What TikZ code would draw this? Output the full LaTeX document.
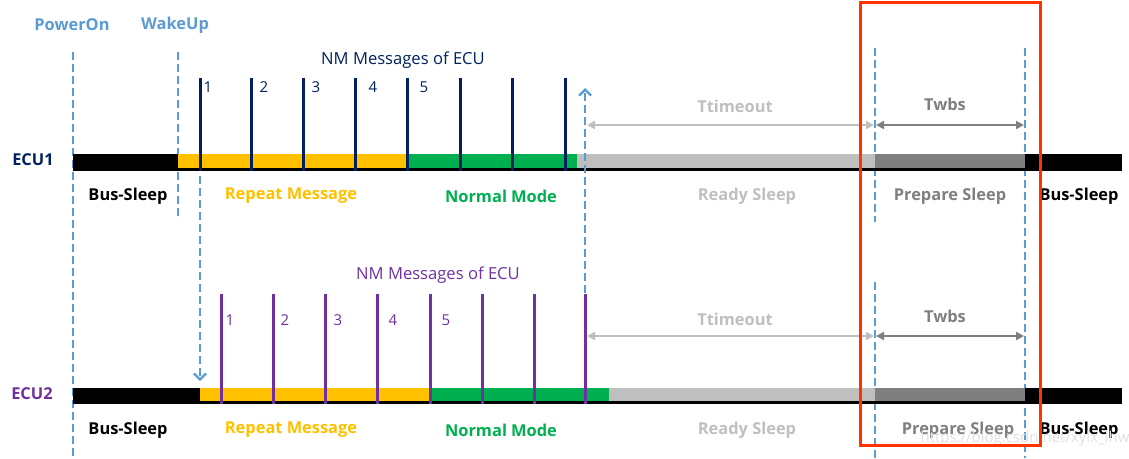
\documentclass[tikz,border=0pt]{standalone}
\usepackage{fontspec}
\setmainfont{Open Sans}
\usetikzlibrary{arrows.meta}
\definecolor{nmblue}{HTML}{5B9BD5}
\definecolor{navy}{HTML}{002060}
\definecolor{purp}{HTML}{7030A0}
\definecolor{rmyellow}{HTML}{FFC000}
\definecolor{nmgreen}{HTML}{00B050}
\definecolor{lgray}{HTML}{BFBFBF}
\definecolor{dgray}{HTML}{7F7F7F}
\definecolor{redbox}{HTML}{FF3300}
\begin{document}
\begin{tikzpicture}[x=1pt,y=-1pt,
  vline/.style={nmblue,line width=2.3pt,dash pattern=on 8pt off 4pt},
  varrow/.style={vline,-{Straight Barb[length=6pt,width=12pt,line width=2.3pt]}},
  msgA/.style={navy,line width=3pt},
  msgB/.style={purp,line width=3pt},
  lbl/.style={font=\bfseries\fontsize{16.4}{19}\selectfont,inner sep=0pt},
  num/.style={font=\fontsize{15}{17}\selectfont,inner sep=0pt},
  ttl/.style={font=\fontsize{16.6}{19}\selectfont,inner sep=0pt},
  span/.style={{Triangle[length=8pt,width=8pt]}-{Triangle[length=8pt,width=8pt]},line width=2.5pt,shorten <=1pt,shorten >=1pt}]
\useasboundingbox (0,0) rectangle (1129,458);
% headers
\node[lbl,nmblue] (pon) at (72,25) {PowerOn};
\node[lbl,nmblue] (wake) at (175,25) {WakeUp};
% dashed guide lines
\coordinate (p1) at (73,52);  \coordinate (p2) at (73,458);
\coordinate (w1) at (178,52); \coordinate (w2) at (178,220);
\coordinate (a1) at (875,48); \coordinate (a2) at (875,222);
\coordinate (a3) at (875,282); \coordinate (a4) at (875,458);
\coordinate (b1) at (1025,48); \coordinate (b2) at (1025,458);
\draw[vline] (p1) -- (p2);
\draw[vline] (w1) -- (w2);
\draw[vline] (a1) -- (a2);
\draw[vline] (a3) -- (a4);
\draw[vline] (b1) -- (b2);
% ECU1 bar
\node[lbl,navy,anchor=center] (ecu1) at (33,160) {ECU1};
\fill[black]    (73,154)  rectangle (178,171);
\fill[rmyellow] (178,154) rectangle (407,168);
\fill[nmgreen]  (407,154) rectangle (577,168);
\fill[lgray]    (577,154) rectangle (875,168);
\fill[dgray]    (875,154) rectangle (1025,168);
\fill[black]    (1025,154) rectangle (1122,171);
\fill[black]    (73,168)  rectangle (1122,171);
% ECU1 messages
\foreach \x/\n in {200/m1,251/m2,303/m3,355/m4,407/m5,460/m6,512/m7,565/m8}
  \draw[msgA] (\x,78) coordinate (A\n) -- (\x,171);
\foreach \x/\t in {208/1,264/2,316/3,373/4,424/5}
  \node[num,navy] (an\t) at (\x,87) {\t};
\node[ttl,navy] (nm1) at (403,60) {NM Messages of ECU};
% ECU2 bar
\node[lbl,purp,anchor=center] (ecu2) at (32,394) {ECU2};
\fill[black]    (73,388)  rectangle (200,404);
\fill[rmyellow] (200,388) rectangle (430,401);
\fill[nmgreen]  (430,388) rectangle (609,401);
\fill[lgray]    (609,388) rectangle (875,401);
\fill[dgray]    (875,388) rectangle (1025,401);
\fill[black]    (1025,388) rectangle (1122,404);
\fill[black]    (73,401)  rectangle (1122,404);
% ECU2 messages
\foreach \x/\n in {221/m1,273/m2,325/m3,377/m4,430/m5,482/m6,534/m7,585/m8}
  \draw[msgB] (\x,294) coordinate (B\n) -- (\x,404);
\foreach \x/\t in {230/1,285/2,338/3,393/4,446/5}
  \node[num,purp] (bn\t) at (\x,320) {\t};
\node[ttl,purp] (nm2) at (438,275) {NM Messages of ECU};
% wake-up propagation arrows
\coordinate (d1) at (200,176); \coordinate (d2) at (200,381);
\draw[varrow] (d1) -- (d2);
\coordinate (u1) at (585,293); \coordinate (u2) at (585,88);
\draw[varrow] (u1) -- (u2);
% timers ECU1
\coordinate (t1a) at (586,125); \coordinate (t1b) at (875,125); \coordinate (t1c) at (1025,125);
\draw[span,lgray] (t1a) -- (t1b);
\draw[span,dgray] (t1b) -- (t1c);
\node[lbl,lgray] (tt1) at (735,106) {Ttimeout};
\node[lbl,dgray] (tw1) at (945,104) {Twbs};
% timers ECU2
\coordinate (t2a) at (586,336); \coordinate (t2b) at (875,336); \coordinate (t2c) at (1025,336);
\draw[span,lgray] (t2a) -- (t2b);
\draw[span,dgray] (t2b) -- (t2c);
\node[lbl,lgray] (tt2) at (735,319) {Ttimeout};
\node[lbl,dgray] (tw2) at (945,316) {Twbs};
% state labels ECU1
\node[lbl,black]    (s11) at (128,196) {Bus-Sleep};
\node[lbl,rmyellow] (s12) at (291,196) {Repeat Message};
\node[lbl,nmgreen]  (s13) at (501,196) {Normal Mode};
\node[lbl,lgray]    (s14) at (747,196) {Ready Sleep};
\node[lbl,dgray]    (s15) at (950,196) {Prepare Sleep};
\node[lbl,black]    (s16) at (1079,196) {Bus-Sleep};
% state labels ECU2
\node[lbl,black]    (s21) at (128,430) {Bus-Sleep};
\node[lbl,rmyellow] (s22) at (291,430) {Repeat Message};
\node[lbl,nmgreen]  (s23) at (501,430) {Normal Mode};
\node[lbl,lgray]    (s24) at (747,430) {Ready Sleep};
\node[lbl,dgray]    (s25) at (958,430) {Prepare Sleep};
\node[lbl,black]    (s26) at (1079,430) {Bus-Sleep};
% watermark
\node[font=\fontsize{15}{17}\selectfont,text=black!12,inner sep=0pt] (wm) at (1025,439) {https://blog.csdn.net/xylx\_lhw};
% highlight box
\draw[redbox,line width=3pt] (860,2) rectangle (1040,445);
\end{tikzpicture}
\end{document}
